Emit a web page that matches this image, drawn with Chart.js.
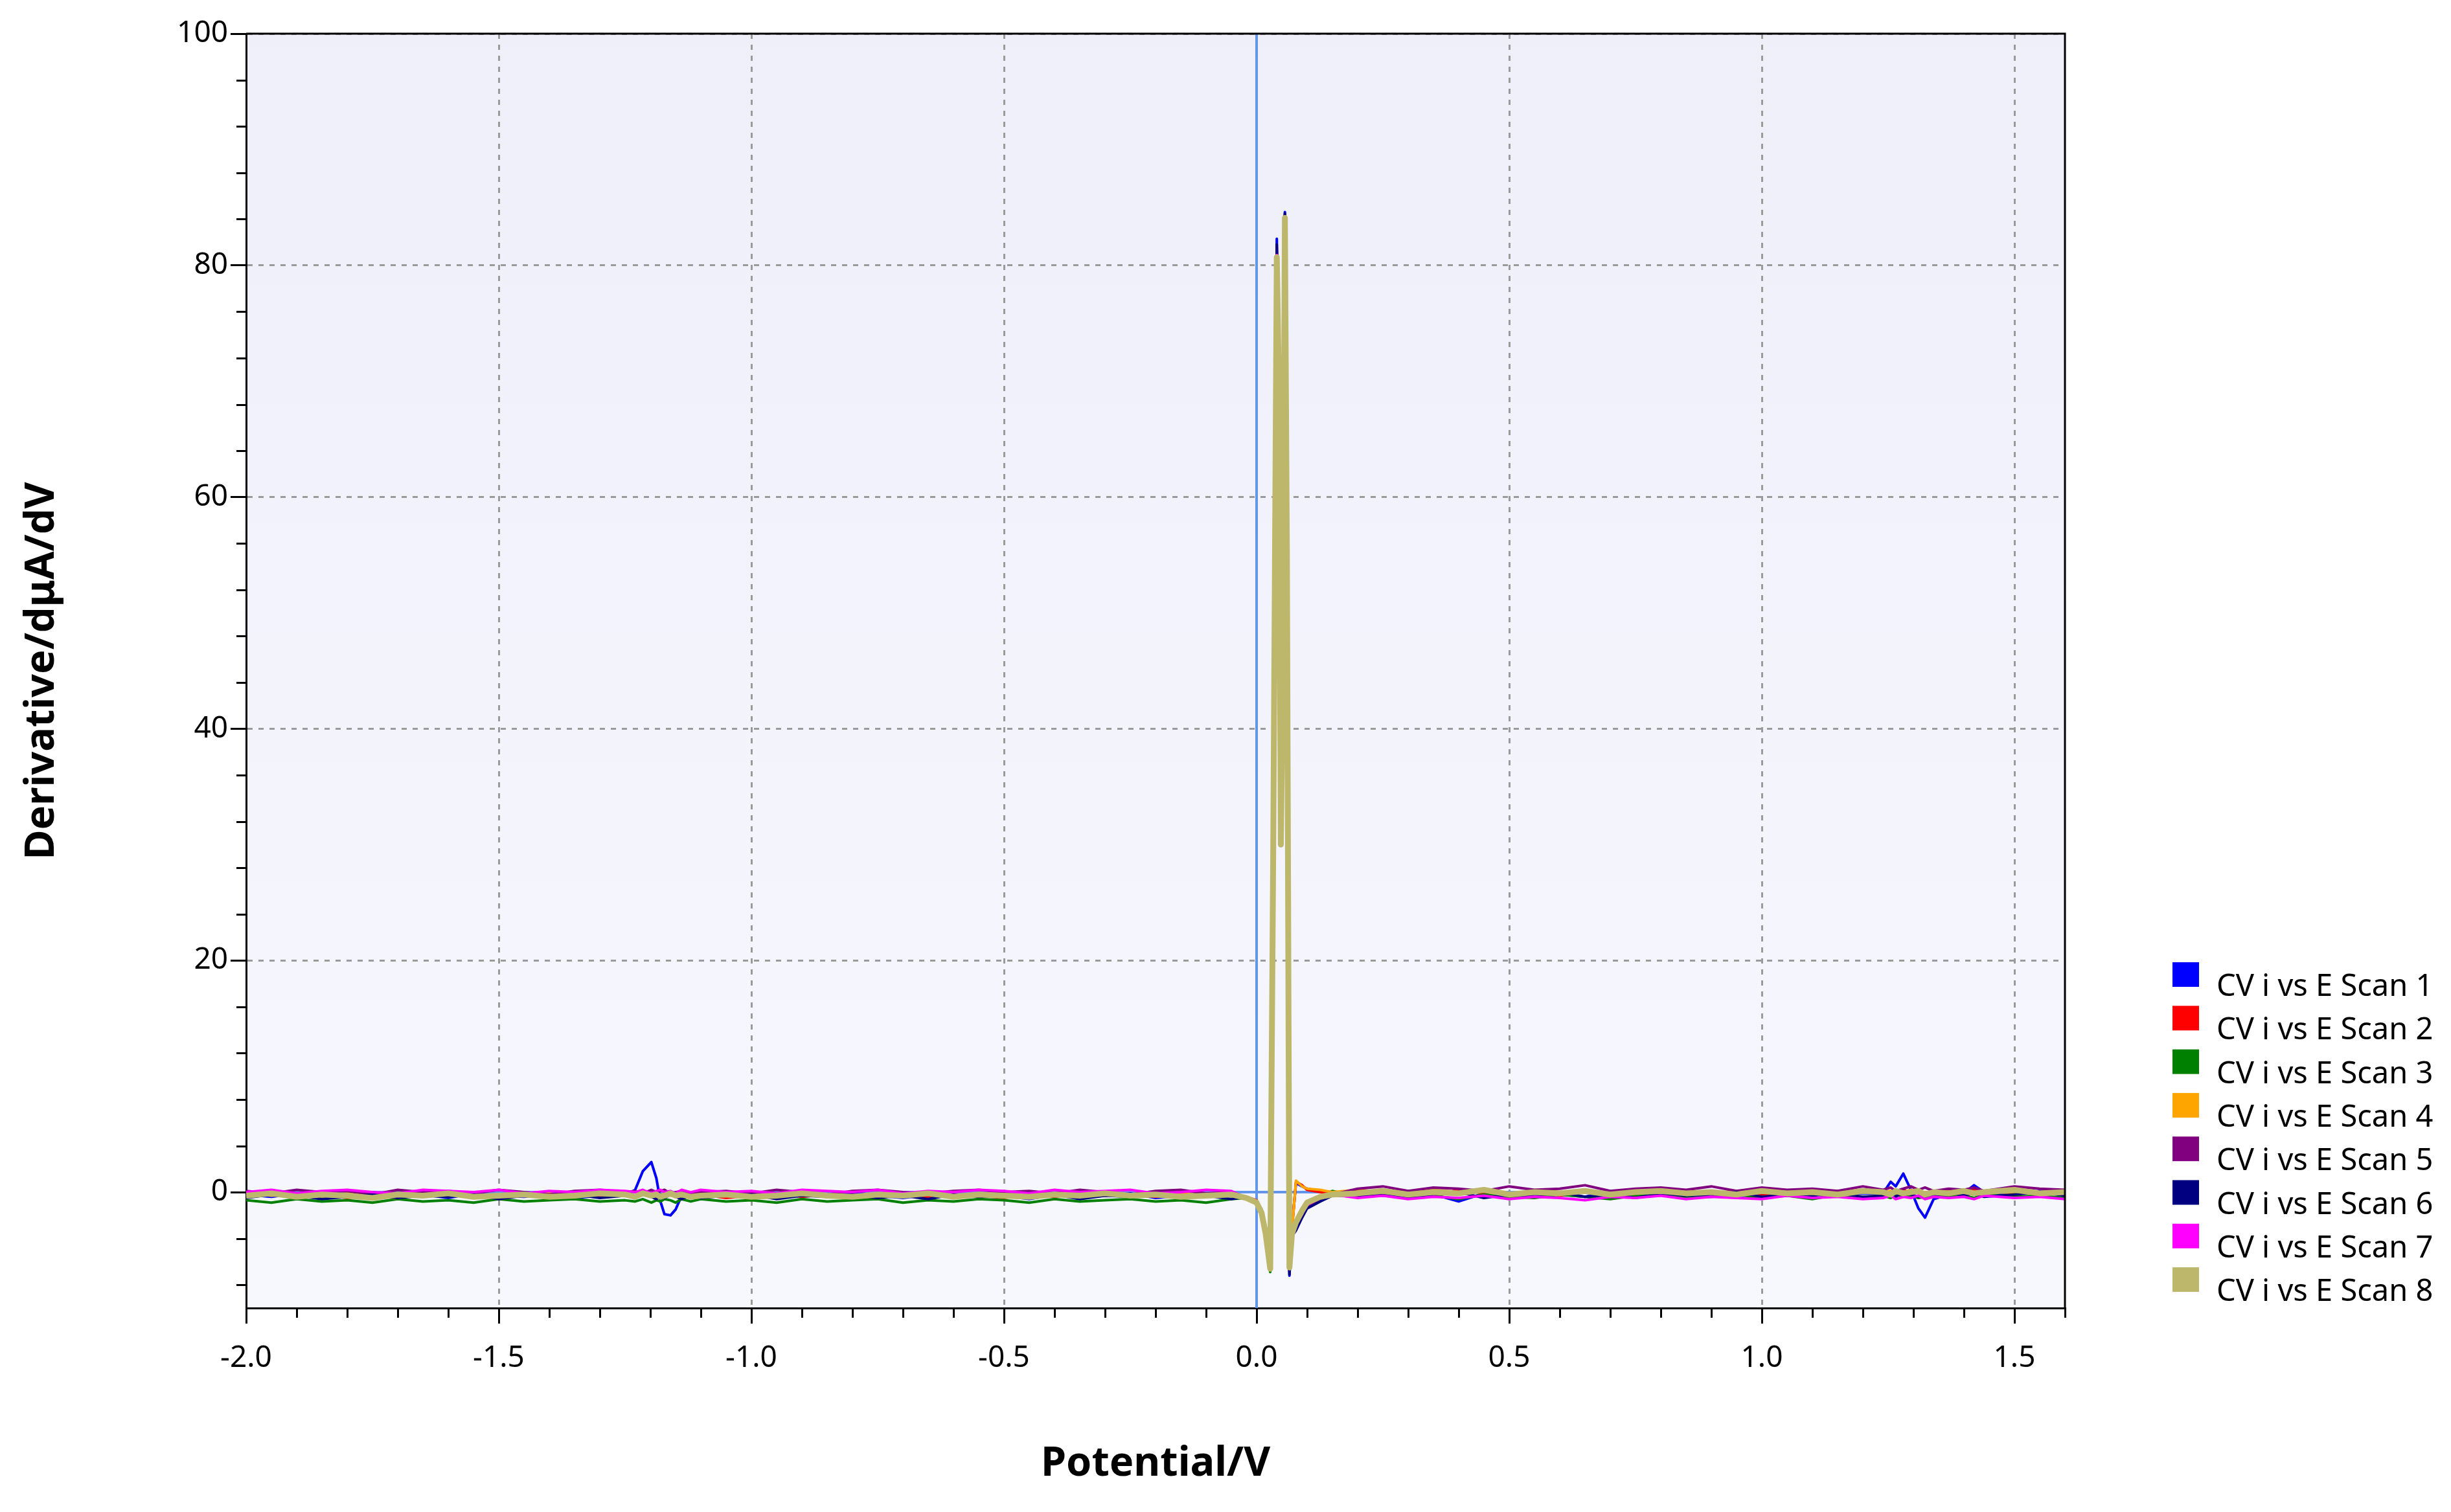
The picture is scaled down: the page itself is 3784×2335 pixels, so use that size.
<!DOCTYPE html>
<html>
<head>
<meta charset="utf-8">
<title>CV derivative</title>
<script src="https://cdn.jsdelivr.net/npm/chart.js@4.4.1/dist/chart.umd.min.js"></script>
<style>
  html, body { margin: 0; padding: 0; background: #ffffff; }
  #chart { display: block; }
</style>
</head>
<body>
<canvas id="chart" width="3784" height="2335"></canvas>
<script>
// potential (V), shared by all eight scans
const potential = [
    -2.00, -1.95, -1.90, -1.85, -1.80, -1.75, -1.70, -1.65, -1.60, -1.55, -1.50, -1.45, -1.40, -1.35, -1.30,
    -1.25, -1.23, -1.215, -1.198, -1.188, -1.18, -1.172, -1.16, -1.15, -1.138, -1.12,
    -1.10, -1.05, -1.00, -0.95, -0.90, -0.85, -0.80, -0.75, -0.70, -0.65, -0.60, -0.55, -0.50, -0.45, -0.40, -0.35, -0.30, -0.25, -0.20, -0.15, -0.10, -0.05,
    -0.02, 0.000, 0.010, 0.018, 0.027, 0.033, 0.040, 0.044, 0.048, 0.052, 0.056, 0.060, 0.065, 0.070, 0.078, 0.090, 0.100, 0.126, 0.150,
    0.20, 0.25, 0.30, 0.35, 0.40, 0.45, 0.50, 0.55, 0.60, 0.65, 0.70, 0.75, 0.80, 0.85, 0.90, 0.95, 1.00, 1.05, 1.10, 1.15, 1.20,
    1.24, 1.255, 1.265, 1.28, 1.295, 1.31, 1.323, 1.34, 1.37,
    1.40, 1.42, 1.44, 1.50, 1.55, 1.60
];

// derivative values (uA/V) for each scan
const scan1 = [
    -0.2, -0.4, -0.1, -0.5, -0.3, 0.0, -0.4, -0.2, -0.5, -0.1, -0.3, -0.4, -0.2, -0.5, -0.3,
    -0.3, 0.2, 1.8, 2.6, 1.2, -0.8, -1.9, -2.0, -1.5, -0.3, -0.2,
    -0.4, -0.1, -0.3, -0.5, -0.2, -0.4, 0.0, -0.3, -0.5, -0.2, -0.4, -0.1, -0.3, -0.6, -0.2, -0.4, -0.3, -0.1, -0.5, -0.3, -0.4, -0.2,
    -0.4, -0.8, -1.5, -3.0, -6.0, 35, 82.3, 65, 35, 55, 84.6, 60, -7.2, -3.0, 0.8, 0.5, 0.3, 0.1, 0.0,
    -0.1, -0.3, 0.1, -0.2, -0.8, -0.1, -0.3, 0.0, -0.2, -0.4, 0.1, -0.3, -0.1, -0.2, 0.0, -0.4, -0.1, -0.3, 0.1, -0.2, -0.1,
    -0.1, 0.9, 0.5, 1.6, 0.2, -1.4, -2.2, -0.6, -0.2,
    -0.1, 0.6, 0.0, -0.2, 0.1, -0.1
];
const scan2 = [
    -0.3, -0.1, -0.4, -0.2, -0.5, -0.3, -0.1, -0.4, -0.2, -0.3, -0.5, -0.1, -0.4, -0.2, -0.3,
    -0.1, -0.4, -0.2, -0.3, -0.5, -0.2, -0.4, -0.1, -0.3, -0.2, -0.4,
    -0.2, -0.5, -0.3, -0.1, -0.4, -0.2, -0.3, -0.5, -0.1, -0.4, -0.2, -0.3, -0.5, -0.2, -0.4, -0.1, -0.3, -0.2, -0.4, -0.3, -0.1, -0.3,
    -0.4, -0.7, -1.6, -3.2, -6.2, 33, 81.5, 68, 33, 50, 84.3, 57, -6.8, -3.2, 0.9, 0.6, 0.2, 0.0, -0.1,
    0.1, -0.2, 0.0, -0.3, 0.2, -0.1, -0.2, 0.1, -0.3, 0.0, -0.1, 0.2, -0.2, 0.0, -0.1, 0.1, -0.3, 0.0, -0.2, 0.1, 0.0,
    0.1, -0.2, 0.0, 0.2, -0.1, 0.0, -0.2, 0.1, -0.1,
    0.0, 0.2, -0.1, 0.1, -0.2, 0.1
];
const scan3 = [
    -0.7, -0.9, -0.6, -0.8, -0.7, -0.9, -0.6, -0.8, -0.7, -0.9, -0.6, -0.8, -0.7, -0.6, -0.8,
    -0.7, -0.8, -0.6, -0.9, -0.7, -0.8, -0.6, -0.7, -0.9, -0.6, -0.8,
    -0.6, -0.8, -0.7, -0.9, -0.6, -0.8, -0.7, -0.6, -0.9, -0.7, -0.8, -0.6, -0.7, -0.9, -0.6, -0.8, -0.7, -0.6, -0.8, -0.7, -0.9, -0.6,
    -0.5, -0.9, -1.9, -3.8, -6.9, 28, 80.5, 70, 32, 47, 84.0, 54, -6.6, -3.4, -2.9, -1.8, -1.0, -0.5, 0.1,
    -0.4, -0.2, -0.5, -0.3, -0.6, -0.2, -0.4, -0.5, -0.2, -0.4, -0.6, -0.3, -0.2, -0.5, -0.4, -0.2, -0.5, -0.3, -0.6, -0.2, -0.4,
    -0.3, -0.5, -0.2, -0.4, -0.3, -0.5, -0.4, -0.2, -0.4,
    -0.3, -0.5, -0.2, -0.4, -0.3, -0.5
];
const scan4 = [
    -0.1, -0.3, -0.2, -0.4, -0.1, -0.3, -0.5, -0.2, -0.1, -0.4, -0.2, -0.3, -0.1, -0.4, -0.2,
    -0.2, -0.3, -0.1, -0.4, -0.2, -0.3, -0.1, -0.3, -0.2, -0.4, -0.1,
    -0.3, -0.2, -0.4, -0.1, -0.3, -0.2, -0.5, -0.1, -0.3, -0.2, -0.4, -0.3, -0.1, -0.4, -0.2, -0.3, -0.1, -0.4, -0.2, -0.1, -0.3, -0.2,
    -0.4, -0.8, -1.7, -3.4, -6.4, 31, 81.0, 69, 31, 46, 84.2, 56, -6.7, -3.3, 1.0, 0.5, 0.3, 0.2, 0.0,
    0.2, 0.0, -0.1, 0.2, 0.0, 0.1, -0.2, 0.2, 0.0, 0.1, -0.1, 0.0, 0.2, 0.1, -0.1, 0.0, 0.2, -0.1, 0.1, 0.0, 0.2,
    0.0, 0.1, -0.1, 0.0, 0.2, -0.1, 0.0, -0.1, 0.1,
    0.2, 0.0, 0.1, -0.1, 0.0, 0.2
];
const scan5 = [
    0.1, -0.1, 0.2, 0.0, 0.1, -0.2, 0.2, 0.0, 0.1, -0.1, 0.2, 0.0, -0.2, 0.1, 0.2,
    0.0, 0.1, -0.1, 0.2, 0.0, 0.1, 0.2, -0.1, 0.0, 0.1, -0.1,
    0.0, 0.1, -0.1, 0.2, 0.0, -0.2, 0.1, 0.2, 0.0, -0.1, 0.1, 0.2, 0.0, 0.1, -0.1, 0.2, 0.0, -0.2, 0.1, 0.2, -0.1, 0.0,
    -0.5, -0.9, -1.8, -3.5, -6.5, 32, 81.2, 66, 36, 52, 84.4, 58, -6.9, -3.5, -3.0, -2.1, -1.3, -0.7, -0.2,
    0.3, 0.5, 0.1, 0.4, 0.3, 0.1, 0.5, 0.2, 0.3, 0.6, 0.1, 0.3, 0.4, 0.2, 0.5, 0.1, 0.4, 0.2, 0.3, 0.1, 0.5,
    0.2, 0.4, 0.1, 0.3, 0.5, 0.2, 0.4, 0.1, 0.3,
    0.2, 0.4, 0.1, 0.5, 0.3, 0.2
];
const scan6 = [
    -0.5, -0.2, -0.3, -0.6, -0.4, -0.2, -0.5, -0.3, -0.4, -0.2, -0.6, -0.3, -0.4, -0.2, -0.5,
    -0.3, -0.5, -0.2, -0.4, -0.6, -0.3, -0.5, -0.2, -0.4, -0.6, -0.3,
    -0.5, -0.3, -0.2, -0.6, -0.3, -0.4, -0.2, -0.5, -0.3, -0.6, -0.2, -0.4, -0.3, -0.5, -0.2, -0.6, -0.3, -0.4, -0.2, -0.5, -0.3, -0.6,
    -0.4, -0.8, -1.6, -3.3, -6.3, 34, 81.8, 67, 34, 51, 84.5, 59, -7.1, -3.8, -3.3, -2.2, -1.4, -0.8, -0.3,
    -0.3, -0.1, -0.4, -0.2, 0.0, -0.5, -0.2, -0.3, 0.0, -0.4, -0.2, -0.5, -0.1, -0.3, -0.2, 0.0, -0.4, -0.2, -0.3, -0.1, -0.4,
    -0.3, -0.1, -0.4, 0.0, -0.2, -0.4, -0.1, -0.3, 0.0,
    -0.3, -0.1, -0.4, -0.2, 0.0, -0.3
];
const scan7 = [
    0.0, 0.2, -0.1, 0.1, 0.2, 0.0, -0.1, 0.2, 0.1, 0.0, 0.2, -0.1, 0.1, 0.0, 0.2,
    0.1, 0.0, 0.2, -0.1, 0.1, 0.2, 0.0, 0.1, -0.1, 0.2, 0.0,
    0.2, 0.0, 0.1, -0.1, 0.2, 0.1, 0.0, 0.2, -0.1, 0.1, 0.0, 0.2, 0.1, -0.1, 0.2, 0.0, 0.1, 0.2, -0.1, 0.0, 0.2, 0.1,
    -0.5, -1.0, -1.9, -3.7, -6.7, 29, 80.9, 71, 33, 48, 84.0, 55, -6.6, -3.4, -2.8, -1.9, -1.1, -0.5, -0.2,
    -0.5, -0.3, -0.6, -0.4, -0.5, -0.3, -0.6, -0.4, -0.5, -0.7, -0.4, -0.5, -0.3, -0.6, -0.4, -0.5, -0.6, -0.3, -0.5, -0.4, -0.6,
    -0.5, -0.3, -0.6, -0.4, -0.5, -0.3, -0.6, -0.4, -0.5,
    -0.4, -0.6, -0.3, -0.5, -0.4, -0.6
];
const scan8 = [
    -0.3, -0.1, -0.4, -0.2, -0.3, -0.5, -0.2, -0.3, -0.1, -0.4, -0.3, -0.2, -0.4, -0.3, -0.1,
    -0.2, -0.4, -0.1, -0.3, -0.2, -0.4, -0.3, -0.1, -0.3, -0.2, -0.4,
    -0.3, -0.2, -0.4, -0.3, -0.1, -0.3, -0.4, -0.2, -0.3, -0.1, -0.4, -0.2, -0.3, -0.4, -0.2, -0.3, -0.1, -0.3, -0.2, -0.4, -0.3, -0.2,
    -0.5, -0.9, -1.8, -3.6, -6.6, 30, 80.7, 70, 30, 45, 84.1, 55, -6.5, -3.6, -2.6, -1.6, -0.9, -0.4, -0.2,
    -0.1, 0.1, -0.2, 0.0, -0.1, 0.2, -0.2, 0.0, -0.1, 0.1, -0.2, 0.0, 0.1, -0.1, 0.0, -0.2, 0.1, -0.1, 0.0, -0.2, 0.1,
    0.0, -0.2, 0.1, -0.1, 0.0, 0.1, -0.2, 0.0, -0.1,
    0.1, -0.1, 0.0, 0.2, -0.1, 0.0
];

const scanLabels = ['CV i vs E Scan 1', 'CV i vs E Scan 2', 'CV i vs E Scan 3', 'CV i vs E Scan 4',
                    'CV i vs E Scan 5', 'CV i vs E Scan 6', 'CV i vs E Scan 7', 'CV i vs E Scan 8'];
const scanColors = ['#0000ff', '#ff0000', '#008000', '#ffa500', '#800080', '#000080', '#ff00ff', '#bdb76b'];
const scanWidths = [4, 4, 4, 4, 4, 4, 4, 9];
const scanSeries = [scan1, scan2, scan3, scan4, scan5, scan6, scan7, scan8];

const xTickValues = [-2.0, -1.5, -1.0, -0.5, 0.0, 0.5, 1.0, 1.5];
const yTickValues = [0, 20, 40, 60, 80, 100];
const xMinorStep = 0.1;
const yMinorStep = 4;

const FONT = 'Noto Sans';

// plot background, zero lines, frame, minor ticks and the legend
const plotExtras = {
    id: 'plotExtras',
    beforeDraw(chart) {
        const { ctx, chartArea: a } = chart;
        const g = ctx.createLinearGradient(0, a.top, 0, a.bottom);
        g.addColorStop(0, '#efeffa');
        g.addColorStop(1, '#f7f7fe');
        ctx.save();
        ctx.fillStyle = g;
        ctx.fillRect(a.left, a.top, a.right - a.left, a.bottom - a.top);
        ctx.restore();
    },
    beforeDatasetsDraw(chart) {
        const { ctx, chartArea: a, scales } = chart;
        const x0 = scales.x.getPixelForValue(0);
        const y0 = scales.y.getPixelForValue(0);
        ctx.save();
        ctx.strokeStyle = '#6495ed';
        ctx.lineWidth = 4;
        ctx.beginPath();
        ctx.moveTo(x0, a.top); ctx.lineTo(x0, a.bottom);
        ctx.moveTo(a.left, y0); ctx.lineTo(a.right, y0);
        ctx.stroke();
        ctx.restore();
    },
    afterDraw(chart) {
        const { ctx, chartArea: a, scales } = chart;
        ctx.save();
        // top and right frame
        ctx.strokeStyle = '#000';
        ctx.lineWidth = 3;
        ctx.beginPath();
        ctx.moveTo(a.left, a.top); ctx.lineTo(a.right, a.top); ctx.lineTo(a.right, a.bottom);
        ctx.stroke();

        // minor ticks
        ctx.beginPath();
        for (let v = scales.x.min; v <= scales.x.max + 1e-9; v += xMinorStep) {
            const r = Math.round(v * 10) / 10;
            if (xTickValues.some(t => Math.abs(t - r) < 1e-6)) continue;
            const px = Math.round(scales.x.getPixelForValue(r)) + 0.5;
            ctx.moveTo(px, a.bottom); ctx.lineTo(px, a.bottom + 15);
        }
        for (let v = -8; v < scales.y.max; v += yMinorStep) {
            if (yTickValues.includes(v)) continue;
            const py = Math.round(scales.y.getPixelForValue(v)) + 0.5;
            ctx.moveTo(a.left, py); ctx.lineTo(a.left - 15, py);
        }
        ctx.stroke();

        // legend
        const left = 3354, top = 1486, pitch = 67.3;
        ctx.font = '47px "' + FONT + '"';
        ctx.textAlign = 'left';
        ctx.textBaseline = 'alphabetic';
        chart.data.datasets.forEach((ds, i) => {
            const y = top + i * pitch;
            ctx.fillStyle = ds.borderColor;
            ctx.fillRect(left, y, 41, 38);
            ctx.fillStyle = '#000';
            ctx.fillText(ds.label, left + 68, y + 52);
        });
        ctx.restore();
    }
};

const chart = new Chart(document.getElementById('chart'), {
    type: 'line',
    data: {
        datasets: scanSeries.map((vals, i) => ({
            label: scanLabels[i],
            data: vals.map((v, k) => ({ x: potential[k], y: v })),
            borderColor: scanColors[i],
            backgroundColor: scanColors[i],
            borderWidth: scanWidths[i],
            borderJoinStyle: 'round',
            pointRadius: 0,
            tension: 0,
            fill: false,
            order: 7 - i,  // scan 8 drawn on top
        })),
    },
    options: {
        responsive: false,
        animation: false,
        layout: { padding: { left: 0, top: 52, right: 596, bottom: 0 } },
        plugins: {
            legend: { display: false },
            tooltip: { enabled: false },
        },
        scales: {
            x: {
                type: 'linear',
                min: -2.0,
                max: 1.6,
                afterBuildTicks(scale) { scale.ticks = xTickValues.map(v => ({ value: v })); },
                afterFit(scale) { scale.height = 315; },
                ticks: {
                    autoSkip: false,
                    maxRotation: 0,
                    padding: 26,
                    color: '#000',
                    font: { family: FONT, size: 46 },
                    callback: v => Number(v).toFixed(1),
                },
                grid: {
                    color: c => (c.tick && c.tick.value === 0) ? 'rgba(0,0,0,0)' : '#9a9a9a',
                    lineWidth: 3,
                    tickLength: 24,
                    tickColor: '#000',
                    tickWidth: 3,
                },
                border: { color: '#000', width: 3, dash: [8, 9] },
                title: {
                    display: true,
                    text: 'Potential/V',
                    color: '#000',
                    font: { family: FONT, size: 63, weight: 'bold' },
                    padding: { top: 0, bottom: 36 },
                },
            },
            y: {
                type: 'linear',
                min: -10,
                max: 100,
                afterBuildTicks(scale) { scale.ticks = yTickValues.map(v => ({ value: v })); },
                afterFit(scale) { scale.width = 380; },
                ticks: {
                    padding: 4,
                    color: '#000',
                    font: { family: FONT, size: 46 },
                    callback: v => String(v),
                },
                grid: {
                    color: c => (c.tick && c.tick.value === 0) ? 'rgba(0,0,0,0)' : '#9a9a9a',
                    lineWidth: 3,
                    tickLength: 24,
                    tickColor: '#000',
                    tickWidth: 3,
                },
                border: { color: '#000', width: 3, dash: [8, 9] },
                title: {
                    display: true,
                    text: 'Derivative/dμA/dV',
                    color: '#000',
                    font: { family: FONT, size: 63, weight: 'bold' },
                    padding: { top: 27, bottom: 0 },
                },
            },
        },
    },
    plugins: [plotExtras],
});
</script>
</body>
</html>
